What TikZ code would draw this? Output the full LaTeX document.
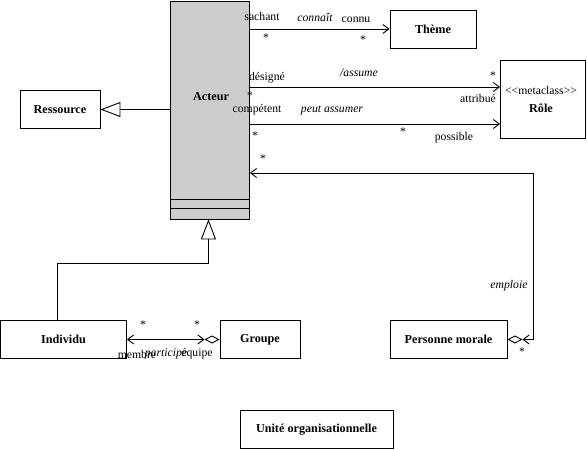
\documentclass[tikz,border=0pt]{standalone}
\usepackage{fontspec}
\setmainfont{Liberation Serif}
\usetikzlibrary{arrows.meta,calc}
\tikzset{
  barb/.tip={Straight Barb[length=6pt,width=9pt]},
  inh/.tip={Triangle[open,length=20pt,width=15pt,fill=white]},
  agg/.tip={Diamond[open,length=15pt,width=8pt,fill=white]}
}
\begin{document}
\begin{tikzpicture}[x=1pt,y=-1pt,
  every node/.style={font=\fontsize{11.7}{13}\selectfont, inner sep=0pt},
  box/.style={draw, line width=0.9pt, font=\fontsize{12.2}{14}\selectfont\bfseries},
  itl/.style={font=\fontsize{11.7}{13}\selectfont\itshape},
  conn/.style={line width=0.9pt}
]
\useasboundingbox (0,0) rectangle (587,450);
% Acteur
\node[box, fill=black!20, minimum width=79pt, minimum height=218pt, anchor=north west] (acteur) at (170,0.5) {};
\node[font=\fontsize{12.2}{14}\selectfont\bfseries] (acteurlbl) at (211,97) {Acteur};
\draw[line width=0.9pt] (acteur.west |- 0,199) -- (acteur.east |- 0,199);
\draw[line width=0.9pt] (acteur.west |- 0,208) -- (acteur.east |- 0,208);
% other boxes
\node[box, minimum width=86pt, minimum height=38pt] (theme) at (433,29) {Thème};
\node[box, minimum width=85pt, minimum height=78pt, align=center] (role) at (543,99) {};
\node (rolemeta) at (541,90) {<\kern0pt<metaclass>\kern0pt>};
\node[font=\fontsize{12.2}{14}\selectfont\bfseries] (rolelbl) at (541,108) {Rôle};
\node[box, minimum width=80pt, minimum height=38pt] (ressource) at (60,109.5) {Ressource};
\node[box, minimum width=126pt, minimum height=38pt] (individu) at (63.5,339.5) {Individu};
\node[box, minimum width=80pt, minimum height=38pt] (groupe) at (260,339.5) {Groupe};
\node[box, minimum width=117pt, minimum height=38pt] (pm) at (448.5,339.5) {Personne morale};
\node[box, minimum width=153pt, minimum height=38pt] (uo) at (316.5,429.5) {Unité organisationnelle};
% generalisations
\draw[conn,-{inh}] (acteur.west |- ressource.east) -- (ressource.east);
\draw[conn,-{inh}] ($(individu.north west)+(57,0)$) -- ++(0,-57) -| ($(acteur.south)+(-1.5,0)$);
% associations
\draw[conn,-{barb}] (acteur.east |- theme.west) -- (theme.west);
\draw[conn,-{barb}] (acteur.east |- 0,87) -- (role.west |- 0,87);
\draw[conn,-{barb}] (acteur.east |- 0,124) -- (role.west |- 0,124);
\coordinate (gagg) at ($(groupe.west)+(-15,0)$);
\draw[conn,{barb}-{barb}] (individu.east) -- (gagg);
\draw[conn,-{agg}] (gagg) -- (groupe.west);
\coordinate (pagg) at ($(pm.east)+(15,0)$);
\draw[conn,{agg}-] (pm.east) -- (pagg);
\draw[conn,{barb}-] (pagg) -- ++(11,0);
\draw[conn,-{barb}] ($(pagg)+(11,0)$) |- (acteur.east |- 0,173);
% labels
\node (l1) at (262,16) {sachant};
\node[itl] (l2) at (315,17) {connaît};
\node (l3) at (356,20) {connu};
\node (s1) at (266,38) {*};
\node (s2) at (363,40) {*};
\node (l4) at (267,78) {désigné};
\node[itl] (l5) at (359,73) {/assume};
\node (s3) at (493,76) {*};
\node (l6) at (478,98) {attribué};
\node (s4) at (250,96) {*};
\node (l7) at (257,110) {compétent};
\node[itl] (l8) at (332,110) {peut assumer};
\node (s5) at (255,136) {*};
\node (s6) at (403,132) {*};
\node (l9) at (454,138) {possible};
\node (s7) at (263,159) {*};
\node[itl] (l10) at (509,286) {emploie};
\node (s8) at (522,352) {*};
\node (s9) at (143,325) {*};
\node (s10) at (197,325) {*};
\node (l11) at (137,354) {membre};
\node[itl] (l12) at (166,354) {participe};
\node (l13) at (197,354) {équipe};
\end{tikzpicture}
\end{document}
